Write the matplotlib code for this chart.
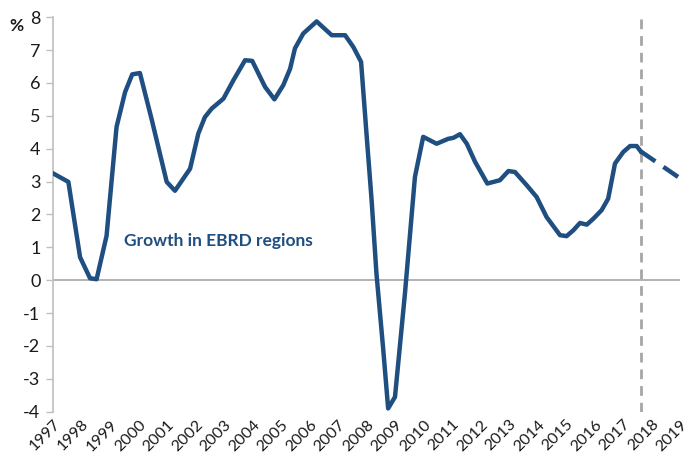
import matplotlib.pyplot as plt
import numpy as np

plt.rcParams['font.family'] = ['Lato', 'DejaVu Sans']
plt.rcParams['axes.unicode_minus'] = False

# Growth in EBRD regions, % (x in fractional years)
years = [1997.0, 1997.54, 1997.95, 1998.3, 1998.53, 1998.88, 1999.23, 1999.53, 1999.78,
         2000.05, 2000.46, 2000.99, 2001.28, 2001.81, 2002.1, 2002.33, 2002.57, 2002.98,
         2003.33, 2003.74, 2003.99, 2004.44, 2004.77, 2005.08, 2005.32, 2005.49, 2005.78,
         2006.25, 2006.78, 2007.25, 2007.54, 2007.81, 2008.0, 2008.18, 2008.35, 2008.59,
         2008.76, 2009.0, 2009.35, 2009.7, 2009.99, 2010.46, 2010.87, 2011.05, 2011.28,
         2011.52, 2011.81, 2012.24, 2012.68, 2012.98, 2013.21, 2013.62, 2013.97, 2014.32,
         2014.79, 2015.02, 2015.26, 2015.49, 2015.73, 2015.96, 2016.25, 2016.48, 2016.72,
         2017.01, 2017.25, 2017.48, 2017.62]
growth = [3.25, 2.99, 0.7, 0.06, 0.03, 1.35, 4.66, 5.72, 6.26,
          6.3, 4.9, 2.99, 2.72, 3.39, 4.46, 4.96, 5.22, 5.52,
          6.08, 6.69, 6.67, 5.88, 5.5, 5.93, 6.43, 7.05, 7.5,
          7.87, 7.45, 7.45, 7.09, 6.64, 4.46, 2.43, 0.2, -2.13,
          -3.9, -3.55, -0.4, 3.14, 4.36, 4.15, 4.3, 4.33, 4.44,
          4.15, 3.6, 2.94, 3.04, 3.32, 3.29, 2.89, 2.53, 1.92,
          1.37, 1.34, 1.52, 1.74, 1.69, 1.87, 2.13, 2.48, 3.55,
          3.9, 4.08, 4.08, 3.92]

# forecast
fc_years = [2017.62, 2019.0]
fc_growth = [3.92, 3.1]

forecast_start = 2017.62
year_labels = list(range(1997, 2020))

fig = plt.figure(figsize=(6.99, 4.76), dpi=100)
ax = fig.add_axes([0.0758, 0.135, 0.897, 0.829])

blue = '#1F4E80'
ax.axhline(0, color='#A6A6A6', lw=1.2, zorder=1)
ax.axvline(forecast_start, color='#A6A6A6', lw=2, ls=(0, (3.5, 2.5)), zorder=1)
ax.plot(years, growth, color=blue, lw=3.2, solid_joinstyle='round', zorder=3)
ax.plot(fc_years, fc_growth, color=blue, lw=3.2, ls=(0, (4, 2.2)), zorder=3)

ax.set_xlim(1997, 2019)
ax.set_ylim(-4, 8)
ax.set_yticks(np.arange(-4, 9, 1))
ax.set_xticks(year_labels)
ax.set_xticklabels([str(y) for y in year_labels], rotation=45, ha='right',
                   rotation_mode='anchor', fontsize=11.5, color='#1a1a1a')
ax.tick_params(axis='x', length=0, pad=4)
ax.tick_params(axis='y', length=5, width=1, color='#BFBFBF', labelsize=13,
               labelcolor='#1a1a1a', pad=4)

for s in ['top', 'right', 'bottom']:
    ax.spines[s].set_visible(False)
ax.spines['left'].set_color('#BFBFBF')
ax.spines['left'].set_linewidth(1.2)

ax.text(1999.5, 1.2, 'Growth in EBRD regions', color=blue, fontsize=12.5,
        fontweight='bold', va='center', ha='left')
fig.text(0.014, 0.935, '%', fontsize=12.5, fontweight='bold', color='#1a1a1a')

fig.savefig('out.png', dpi=100)
